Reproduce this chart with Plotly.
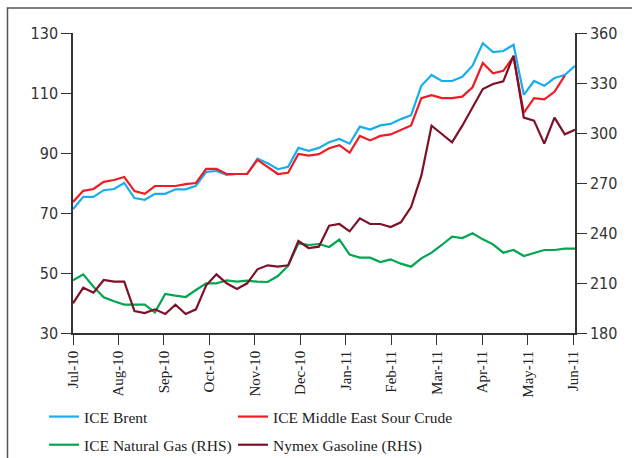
import plotly.graph_objects as go

weeks = list(range(50))
months = ['Jul-10', 'Aug-10', 'Sep-10', 'Oct-10', 'Nov-10', 'Dec-10',
          'Jan-11', 'Feb-11', 'Mar-11', 'Apr-11', 'May-11', 'Jun-11']

ice_brent = [71.3, 75.4, 75.4, 77.6, 78.0, 80.0, 75.0, 74.4, 76.4, 76.4,
             77.9, 77.9, 79.1, 83.7, 84.0, 82.7, 83.0, 83.0, 88.1, 86.6,
             84.6, 85.4, 91.7, 90.7, 91.7, 93.6, 94.7, 93.1, 98.8, 97.8,
             99.2, 99.7, 101.3, 102.6, 112.4, 116.0, 114.0, 114.0, 115.4, 119.1,
             126.6, 123.6, 124.0, 126.1, 109.4, 114.0, 112.4, 115.0, 116.0, 119.1]

ice_me_sour = [73.7, 77.4, 78.0, 80.4, 81.0, 82.0, 77.3, 76.4, 79.0, 79.0,
               79.0, 79.6, 80.0, 84.7, 84.7, 83.0, 83.0, 83.0, 87.7, 85.4,
               83.0, 83.4, 89.7, 89.1, 89.6, 91.6, 92.6, 90.1, 95.7, 94.2,
               95.7, 96.2, 97.8, 99.2, 108.3, 109.3, 108.3, 108.3, 108.8, 111.9,
               120.0, 116.6, 117.4, 122.1, 103.4, 108.3, 107.9, 110.4, 115.8, None]

ice_nat_gas = [211.6, 215.2, 207.8, 201.4, 199.0, 197.0, 197.0, 197.0, 192.4, 203.4,
               202.4, 201.6, 205.8, 209.8, 209.8, 211.6, 210.8, 211.4, 210.8, 210.6,
               214.2, 220.4, 233.8, 232.8, 233.4, 231.6, 236.0, 227.0, 225.2, 225.2,
               222.6, 224.2, 221.6, 219.8, 224.8, 228.2, 232.8, 237.8, 237.0, 239.8,
               236.2, 233.2, 228.2, 229.8, 226.2, 228.2, 229.8, 229.8, 230.6, 230.6]

nymex_gasoline = [197.8, 207.2, 204.2, 211.8, 210.8, 210.8, 193.2, 192.0, 194.2, 191.4,
                  197.0, 191.4, 194.2, 208.6, 215.2, 209.8, 206.4, 209.8, 218.2, 220.6,
                  219.8, 220.6, 235.2, 231.0, 231.8, 244.4, 245.4, 241.0, 248.8, 245.4,
                  245.4, 243.6, 246.4, 255.6, 274.4, 304.4, 299.4, 294.4, 304.4, 315.8,
                  326.4, 329.4, 331.0, 346.4, 309.2, 307.4, 293.6, 309.2, 299.2, 302.0]

month_pos = [k * 4.44 for k in range(len(months))]

serif = 'Liberation Serif, Times New Roman, serif'
sans = 'DejaVu Sans Condensed, Liberation Sans, sans-serif'

fig = go.Figure()
# left legend column: Brent + Natural Gas, right column: ME Sour + Gasoline
fig.add_trace(go.Scatter(x=weeks, y=ice_brent, name='ICE Brent', mode='lines',
                         line=dict(color='#19AEEA', width=2.2),
                         legend='legend', legendgroup='a'))
fig.add_trace(go.Scatter(x=weeks, y=ice_me_sour, name='ICE Middle East Sour Crude', mode='lines',
                         line=dict(color='#EE1D25', width=2.2),
                         legend='legend2', legendgroup='c'))
fig.add_trace(go.Scatter(x=weeks, y=ice_nat_gas, name='ICE Natural Gas (RHS)', mode='lines',
                         line=dict(color='#00A650', width=2.2), yaxis='y2',
                         legend='legend', legendgroup='b'))
fig.add_trace(go.Scatter(x=weeks, y=nymex_gasoline, name='Nymex Gasoline (RHS)', mode='lines',
                         line=dict(color='#7D1128', width=2.2), yaxis='y2',
                         legend='legend2', legendgroup='d'))

axis_col = '#333333'
leg_font = dict(family=serif, size=15.5, color='#222222')

fig.update_layout(
    width=632, height=458,
    margin=dict(l=73, r=57, t=33, b=125, autoexpand=False),
    paper_bgcolor='white', plot_bgcolor='white',
    showlegend=True,
    legend=dict(orientation='v', x=-0.0577, y=-0.2233, xanchor='left', yanchor='top',
                font=leg_font, bgcolor='rgba(0,0,0,0)', tracegroupgap=5),
    legend2=dict(orientation='v', x=0.3187, y=-0.2233, xanchor='left', yanchor='top',
                 font=leg_font, bgcolor='rgba(0,0,0,0)', tracegroupgap=5),
    xaxis=dict(range=[0, 49], tickmode='array', tickvals=month_pos, ticktext=months,
               tickangle=-90, ticks='outside', ticklen=10, tickcolor=axis_col, tickwidth=1.3,
               showline=True, linecolor=axis_col, linewidth=1.5, showgrid=False, zeroline=False,
               tickfont=dict(family=serif, size=15, color='#222222')),
    yaxis=dict(range=[30, 130], dtick=20, tick0=30, ticks='outside', ticklen=10,
               tickcolor=axis_col, tickwidth=1.3, showline=True, linecolor=axis_col,
               linewidth=1.5, showgrid=False, zeroline=False,
               tickfont=dict(family=sans, size=16, color='#333333')),
    yaxis2=dict(range=[180, 360], dtick=30, tick0=180, overlaying='y', side='right',
                ticks='outside', ticklen=10, tickcolor=axis_col, tickwidth=1.3,
                showline=True, linecolor=axis_col, linewidth=1.5, showgrid=False,
                zeroline=False, tickfont=dict(family=sans, size=16, color='#333333')),
)

# the panel frame around the chart (only its left and top edges are in view)
fig.add_shape(type='rect', xref='paper', yref='paper',
              x0=-0.1305, x1=1.3, y0=-0.6, y1=1.083,
              line=dict(color='#555555', width=1.5), layer='below')

# drop the browser's default body margin so the figure sits at the page corner
fig.write_html('out.html', config={'displayModeBar': False},
               post_script="document.body.style.margin='0px';")
